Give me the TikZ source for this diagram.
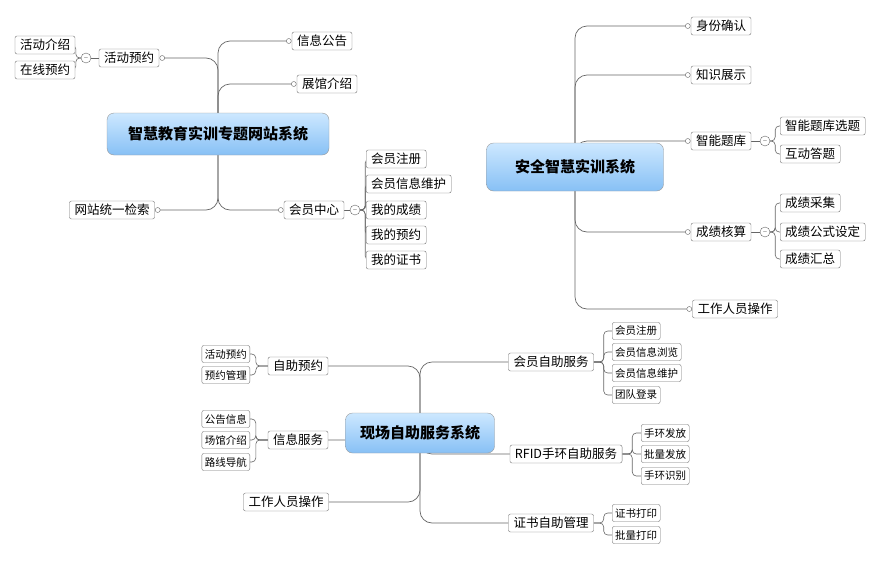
\documentclass[tikz,border=0pt]{standalone}
\usepackage{fontspec}
\usepackage{tikz}
\usetikzlibrary{backgrounds}
\newfontfamily\cjk{Noto Sans CJK SC}

\tikzset{
  box/.style={draw=black!55, rounded corners=2pt, fill=white, inner xsep=5pt, inner ysep=2pt,
    minimum height=18pt, font=\cjk\fontsize{12.5}{14}\selectfont},
  leaf/.style={box, inner xsep=3pt, minimum height=17pt, font=\cjk\fontsize{10.5}{12}\selectfont},
  rootbox/.style={draw=black!40, rounded corners=7pt, top color={rgb,255:red,205;green,232;blue,255},
    bottom color={rgb,255:red,135;green,192;blue,245}, font=\cjk\bfseries\fontsize{15}{17}\selectfont},
  link/.style={draw=black!60, line width=0.7pt, rounded corners=12pt},
  sub/.style={draw=black!60, line width=0.6pt, rounded corners=4pt},
  knob/.style={circle, draw=black!60, fill=white, inner sep=0pt, minimum size=5pt},
  fold/.style={circle, draw=black!60, fill=white, inner sep=0pt, minimum size=10pt, font=\tiny}
}

\begin{document}
\begin{tikzpicture}[x=1pt, y=-1pt]
  \useasboundingbox (0,0) rectangle (877,573);
  % first map
  \node[rootbox, minimum width=222pt, minimum height=42pt] (web) at (218,134) {智慧教育实训专题网站系统};
  \node[box] (notice) at (322,41) {信息公告};
  \node[box] (hall) at (327,84) {展馆介绍};
  \node[box] (book) at (129,58) {活动预约};
  \node[box] (bookA) at (45,45) {活动介绍};
  \node[box] (bookB) at (45,70) {在线预约};
  \node[box] (search) at (112,210) {网站统一检索};
  \node[box] (member) at (314,210) {会员中心};
  \node[box, anchor=west] (memA) at (366,159) {会员注册};
  \node[box, anchor=west] (memB) at (366,184) {会员信息维护};
  \node[box, anchor=west] (memC) at (366,210) {我的成绩};
  \node[box, anchor=west] (memD) at (366,235) {我的预约};
  \node[box, anchor=west] (memE) at (366,260) {我的证书};
  \node[fold] (bookF) at (86,58) {$-$};
  \node[fold] (memF) at (355,210) {$-$};
  % second map
  \node[rootbox, minimum width=177pt, minimum height=48pt] (safe) at (575,167) {安全智慧实训系统};
  \node[box] (ident) at (721,26) {身份确认};
  \node[box] (know) at (721,75) {知识展示};
  \node[box] (quiz) at (721,141) {智能题库};
  \node[box, anchor=west] (quizA) at (780,126) {智能题库选题};
  \node[box, anchor=west] (quizB) at (780,154) {互动答题};
  \node[box] (score) at (721,232) {成绩核算};
  \node[box, anchor=west] (scoreA) at (780,203) {成绩采集};
  \node[box, anchor=west] (scoreB) at (780,232) {成绩公式设定};
  \node[box, anchor=west] (scoreC) at (780,259) {成绩汇总};
  \node[box] (staff) at (735,309) {工作人员操作};
  \node[fold] (quizF) at (765,141) {$-$};
  \node[fold] (scoreF) at (765,232) {$-$};
  % third map
  \node[rootbox, minimum width=149pt, minimum height=40pt] (site) at (420,433) {现场自助服务系统};
  \node[box] (self) at (551,362) {会员自助服务};
  \node[leaf, anchor=west] (selfA) at (612,331) {会员注册};
  \node[leaf, anchor=west] (selfB) at (612,352) {会员信息浏览};
  \node[leaf, anchor=west] (selfC) at (612,373) {会员信息维护};
  \node[leaf, anchor=west] (selfD) at (612,395) {团队登录};
  \node[box] (rfid) at (566,454) {RFID手环自助服务};
  \node[leaf, anchor=west] (rfidA) at (641,433) {手环发放};
  \node[leaf, anchor=west] (rfidB) at (641,454) {批量发放};
  \node[leaf, anchor=west] (rfidC) at (641,476) {手环识别};
  \node[box] (cert) at (551,523) {证书自助管理};
  \node[leaf, anchor=west] (certA) at (612,513) {证书打印};
  \node[leaf, anchor=west] (certB) at (612,535) {批量打印};
  \node[box] (order) at (298,366) {自助预约};
  \node[leaf, anchor=east] (orderA) at (250,354) {活动预约};
  \node[leaf, anchor=east] (orderB) at (250,375) {预约管理};
  \node[box] (info) at (298,440) {信息服务};
  \node[leaf, anchor=east] (infoA) at (250,419) {公告信息};
  \node[leaf, anchor=east] (infoB) at (250,440) {场馆介绍};
  \node[leaf, anchor=east] (infoC) at (250,462) {路线导航};
  \node[box] (work) at (286,502) {工作人员操作};

  \begin{scope}[on background layer]
    \foreach \n in {notice,hall,member}
      \draw[link] (web.center) |- ([xshift=-3pt]\n.west);
    \foreach \n in {book,search}
      \draw[link] (web.center) |- ([xshift=3pt]\n.east);
    \foreach \n in {ident,know,quiz,score,staff}
      \draw[link] (safe.center) |- ([xshift=-3pt]\n.west);
    \foreach \n in {self,rfid,cert}
      \draw[link] (site.center) |- (\n.west);
    \foreach \n in {order,info,work}
      \draw[link] (site.center) |- (\n.east);
    \draw[sub] (book.west) -- (bookF);
    \draw[sub] (member.east) -- (memF);
    \draw[sub] (quiz.east) -- (quizF);
    \draw[sub] (score.east) -- (scoreF);
    \foreach \n in {bookA,bookB}
      \draw[sub] (bookF.west) -- ++(-5,0) |- (\n.east);
    \foreach \n in {memA,memB,memC,memD,memE}
      \draw[sub] (memF.east) -- ++(5,0) |- (\n.west);
    \foreach \n in {quizA,quizB}
      \draw[sub] (quizF.east) -- ++(5,0) |- (\n.west);
    \foreach \n in {scoreA,scoreB,scoreC}
      \draw[sub] (scoreF.east) -- ++(5,0) |- (\n.west);
    \foreach \n in {selfA,selfB,selfC,selfD}
      \draw[sub] (self.east) -- ++(10,0) |- (\n.west);
    \foreach \n in {rfidA,rfidB,rfidC}
      \draw[sub] (rfid.east) -- ++(10,0) |- (\n.west);
    \foreach \n in {certA,certB}
      \draw[sub] (cert.east) -- ++(10,0) |- (\n.west);
    \foreach \n in {orderA,orderB}
      \draw[sub] (order.west) -- ++(-12,0) |- (\n.east);
    \foreach \n in {infoA,infoB,infoC}
      \draw[sub] (info.west) -- ++(-12,0) |- (\n.east);
  \end{scope}
  \foreach \n in {notice,hall,member,ident,know,quiz,score,staff}
    \node[knob] at ([xshift=-3pt]\n.west) {};
  \foreach \n in {book,search}
    \node[knob] at ([xshift=3pt]\n.east) {};
\end{tikzpicture}
\end{document}
